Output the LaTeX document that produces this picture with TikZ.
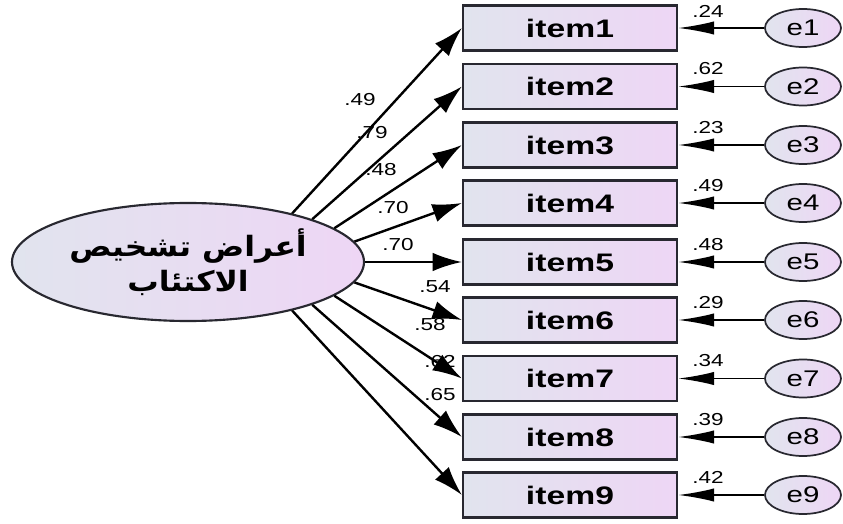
\documentclass[tikz,border=0pt]{standalone}
\usepackage{xcolor}
\usepackage{graphicx}
\usepackage{fontspec}
\setmainfont{Liberation Sans}
\newfontfamily\arabicfont[Script=Arabic]{DejaVu Sans}
\TeXXeTstate=1
\usepackage{tikz}
\usetikzlibrary{arrows.meta,shapes.geometric}

\definecolor{boxleft}{RGB}{225,228,238}
\definecolor{boxright}{RGB}{238,214,245}
\definecolor{edgegray}{RGB}{40,40,48}
\newcommand{\wide}[2][1.3]{\scalebox{#1}[1]{#2}}

\tikzset{
  itembox/.style={draw=edgegray, line width=1.7pt, left color=boxleft, right color=boxright,
    minimum width=160.5pt, minimum height=33.75pt, inner sep=0pt,
    font=\fontsize{19}{21}\selectfont\bfseries},
  errnode/.style={draw=edgegray, line width=1.3pt, ellipse, left color=boxleft, right color=boxright,
    minimum width=57pt, minimum height=28.5pt, inner sep=0pt, font=\fontsize{17}{19}\selectfont},
  load/.style={line width=1.8pt, -{Latex[length=22pt,width=14pt]}},
  resid/.style={line width=1.4pt, -{Latex[length=27pt,width=10pt]}},
  coef/.style={inner sep=0.75pt, font=\fontsize{13}{15}\selectfont}
}

\begin{document}
\begin{tikzpicture}[x=0.75pt,y=0.75pt,yscale=-1,xscale=1]
\useasboundingbox (0,0) rectangle (843,524);

% Latent variable
\node [ellipse, draw=edgegray, line width=1.6pt, left color=boxleft, right color=boxright,
  minimum width=264pt, minimum height=88.5pt, inner sep=0pt, align=center,
  font=\fontsize{21}{26}\selectfont\bfseries] (lat) at (188,262)
  {\wide[1.12]{\arabicfont\beginR أعراض تشخيص\endR}\\ \wide[1.12]{\arabicfont\beginR الاكتئاب\endR}};

% Observed items
\node [itembox] (i1) at (570,28) {\wide[1.33]{item1}};
\node [itembox] (i2) at (570,86.5) {\wide[1.33]{item2}};
\node [itembox] (i3) at (570,145) {\wide[1.33]{item3}};
\node [itembox] (i4) at (570,203) {\wide[1.33]{item4}};
\node [itembox] (i5) at (570,262) {\wide[1.33]{item5}};
\node [itembox] (i6) at (570,320) {\wide[1.33]{item6}};
\node [itembox] (i7) at (570,378.5) {\wide[1.33]{item7}};
\node [itembox] (i8) at (570,437) {\wide[1.33]{item8}};
\node [itembox] (i9) at (570,495) {\wide[1.33]{item9}};

% Error terms
\node [errnode] (e1) at (803,28) {\wide{e1}};
\node [errnode] (e2) at (803,86.5) {\wide{e2}};
\node [errnode] (e3) at (803,145) {\wide{e3}};
\node [errnode] (e4) at (803,203) {\wide{e4}};
\node [errnode] (e5) at (803,262) {\wide{e5}};
\node [errnode] (e6) at (803,320) {\wide{e6}};
\node [errnode] (e7) at (803,378.5) {\wide{e7}};
\node [errnode] (e8) at (803,437) {\wide{e8}};
\node [errnode] (e9) at (803,495) {\wide{e9}};

% Loadings
\draw [load] (lat.25) -- (i1.west);
\draw [load] (lat.19) -- (i2.west);
\draw [load] (lat.13) -- (i3.west);
\draw [load] (lat.7) -- (i4.west);
\draw [load] (lat.0) -- (i5.west);
\draw [load] (lat.-7) -- (i6.west);
\draw [load] (lat.-13) -- (i7.west);
\draw [load] (lat.-19) -- (i8.west);
\draw [load] (lat.-25) -- (i9.west);

% Residual paths
\draw [resid] (e1) -- (i1.east);
\draw [resid] (e2) -- (i2.east);
\draw [resid] (e3) -- (i3.east);
\draw [resid] (e4) -- (i4.east);
\draw [resid] (e5) -- (i5.east);
\draw [resid] (e6) -- (i6.east);
\draw [resid] (e7) -- (i7.east);
\draw [resid] (e8) -- (i8.east);
\draw [resid] (e9) -- (i9.east);

% Loading labels
\node [coef] (l1) at (360,100) {\wide{.49}};
\node [coef] (l2) at (372,133) {\wide{.79}};
\node [coef] (l3) at (381,170) {\wide{.48}};
\node [coef] (l4) at (393,208) {\wide{.70}};
\node [coef] (l5) at (398,245) {\wide{.70}};
\node [coef] (l6) at (435,287) {\wide{.54}};
\node [coef] (l7) at (430,325) {\wide{.58}};
\node [coef] (l8) at (440,362) {\wide{.62}};
\node [coef] (l9) at (440,395) {\wide{.65}};

% Squared multiple correlations
\node [coef] (r1) at (708,11) {\wide{.24}};
\node [coef] (r2) at (708,69) {\wide{.62}};
\node [coef] (r3) at (708,127.5) {\wide{.23}};
\node [coef] (r4) at (708,186) {\wide{.49}};
\node [coef] (r5) at (708,244.5) {\wide{.48}};
\node [coef] (r6) at (708,302.5) {\wide{.29}};
\node [coef] (r7) at (708,361) {\wide{.34}};
\node [coef] (r8) at (708,419.5) {\wide{.39}};
\node [coef] (r9) at (708,477.5) {\wide{.42}};

\end{tikzpicture}
\end{document}
